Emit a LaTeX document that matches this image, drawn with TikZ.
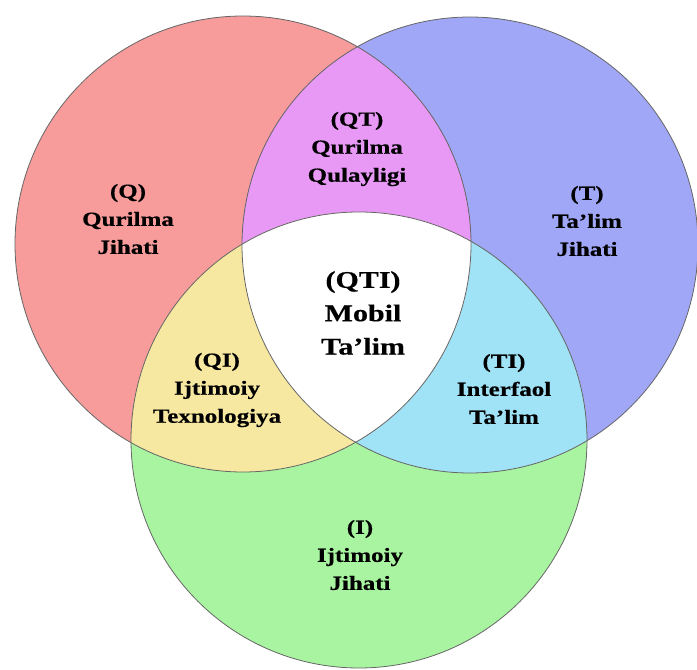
\documentclass[tikz,border=0pt]{standalone}
\usepackage{fontspec}
\newfontfamily\vennfont{Liberation Serif}[FakeStretch=1.25, FakeBold=0.4]
\usetikzlibrary{positioning}

\definecolor{qfill}{RGB}{247,155,155}
\definecolor{tfill}{RGB}{160,167,246}
\definecolor{ifill}{RGB}{168,244,160}
\definecolor{qtfill}{RGB}{232,152,245}
\definecolor{qifill}{RGB}{246,232,160}
\definecolor{tifill}{RGB}{160,226,246}
\newcommand{\vennr}{171pt}

\tikzset{
  ring/.style={draw=black!60, line width=0.6pt},
  lbl/.style={align=center, text=black, font=\vennfont\bfseries\fontsize{15}{21}\selectfont},
  midlbl/.style={lbl, font=\vennfont\bfseries\fontsize{18}{25}\selectfont}
}

\begin{document}
\begin{tikzpicture}[x=0.75pt, y=-0.75pt]
  \useasboundingbox (0,0) rectangle (697,670);
  \coordinate (q) at (243,244);
  \coordinate (t) at (470,245);
  \coordinate (i) at (359,440);
  % discs
  \fill[qfill] (q) circle[radius=\vennr];
  \fill[tfill] (t) circle[radius=\vennr];
  \fill[ifill] (i) circle[radius=\vennr];
  % overlaps
  \begin{scope}
    \clip (t) circle[radius=\vennr];
    \fill[tifill] (i) circle[radius=\vennr];
  \end{scope}
  \begin{scope}
    \clip (q) circle[radius=\vennr];
    \fill[qtfill] (t) circle[radius=\vennr];
    \fill[qifill] (i) circle[radius=\vennr];
    \clip (t) circle[radius=\vennr];
    \fill[white] (i) circle[radius=\vennr];
  \end{scope}
  % outlines
  \draw[ring] (q) circle[radius=\vennr];
  \draw[ring] (t) circle[radius=\vennr];
  \draw[ring] (i) circle[radius=\vennr];
  % labels
  \node[lbl] (qlbl) at (128,219) {(Q)\\Qurilma\\Jihati};
  \node[lbl] (tlbl) at (587,221) {(T)\\Ta’lim\\Jihati};
  \node[lbl] (ilbl) at (360,555) {(I)\\Ijtimoiy\\Jihati};
  \node[lbl] (qtlbl) at (357,149) {(QT)\\Qurilma\\Qulayligi};
  \node[lbl] (qilbl) at (217,390) {(QI)\\Ijtimoiy\\Texnologiya};
  \node[lbl] (tilbl) at (504,389) {(TI)\\Interfaol\\Ta’lim};
  \node[midlbl] (qtilbl) at (363,313) {(QTI)\\Mobil\\Ta’lim};
\end{tikzpicture}
\end{document}
